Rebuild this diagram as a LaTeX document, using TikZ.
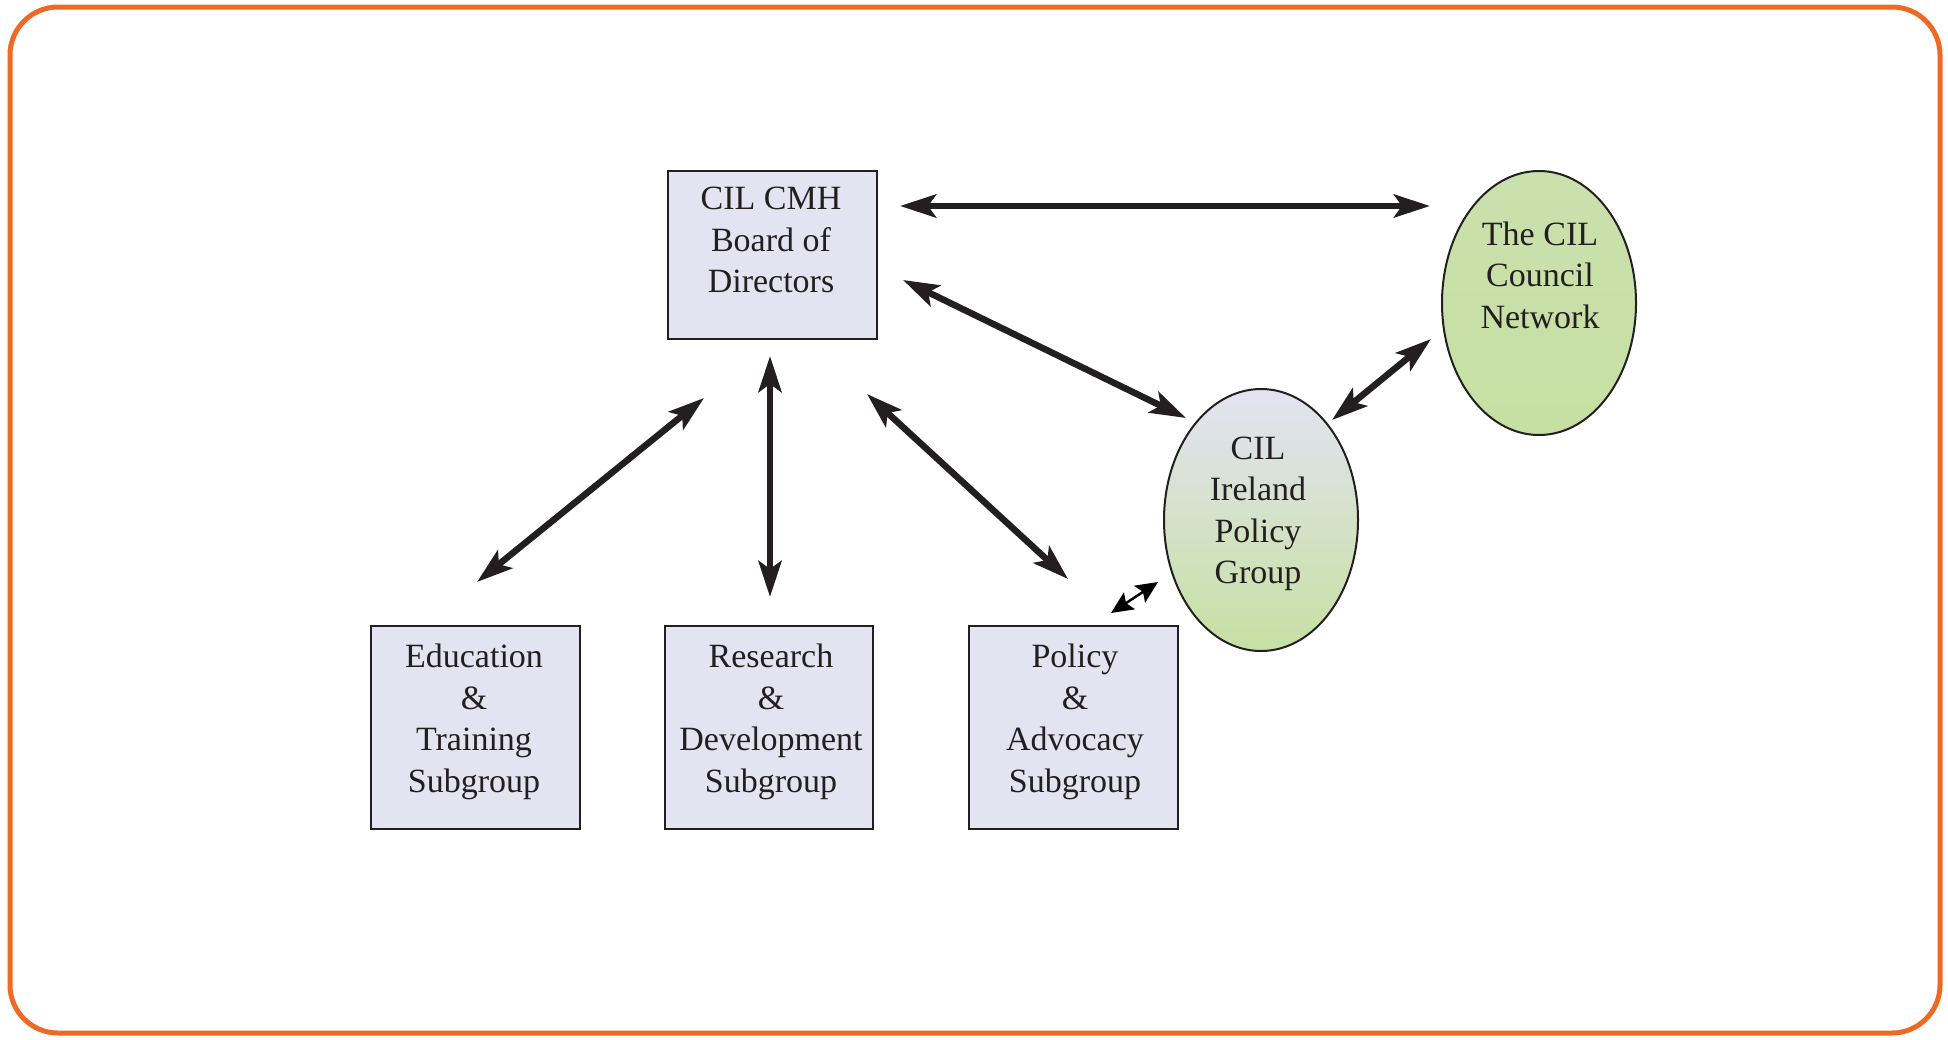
\documentclass[tikz,border=0pt]{standalone}
\usepackage{fontspec}
\setmainfont{Liberation Serif}
\usetikzlibrary{arrows.meta,shapes.geometric}
\definecolor{frameorange}{HTML}{EE6A24}
\definecolor{boxfill}{HTML}{E3E3F1}
\definecolor{greenfill}{HTML}{C6E0A2}
\definecolor{lavtop}{HTML}{E3E3F1}
\definecolor{edge}{HTML}{231F20}
\tikzset{
  boxnode/.style={draw=edge, line width=2pt, fill=boxfill, rectangle, inner sep=0pt},
  txt/.style={align=center, inner sep=0pt, text=edge, font=\fontsize{34}{41.5}\selectfont},
  ellnode/.style={draw=edge, line width=2pt, ellipse, inner sep=0pt},
  bigarrow/.style={line width=6.5pt, draw=edge, {Stealth[length=36pt,width=23pt,inset=8pt]}-{Stealth[length=36pt,width=23pt,inset=8pt]}},
  smallarrow/.style={line width=2.5pt, draw=black, {Stealth[length=22pt,width=20pt,inset=4pt]}-{Stealth[length=22pt,width=20pt,inset=4pt]}}
}
\begin{document}
\begin{tikzpicture}[x=1pt,y=-1pt]
\useasboundingbox (0,0) rectangle (1948,1039);
\draw[frameorange, line width=5pt, rounded corners=48pt] (10,7) rectangle (1940,1033);

% boxes
\node[boxnode, minimum width=209pt, minimum height=168pt] (board) at (772.5,255) {};
\node[txt] (boardtxt) at (771,240) {CIL CMH\\Board of\\Directors};

\node[boxnode, minimum width=209pt, minimum height=203pt] (edu) at (475.5,727.5) {};
\node[txt] (edutxt) at (474,722) {Education\\\&\\Training\\Subgroup};

\node[boxnode, minimum width=208pt, minimum height=203pt] (res) at (769,727.5) {};
\node[txt] (restxt) at (771,722) {Research\\\&\\Development\\Subgroup};

\node[boxnode, minimum width=209pt, minimum height=203pt] (pol) at (1073.5,727.5) {};
\node[txt] (poltxt) at (1075,722) {Policy\\\&\\Advocacy\\Subgroup};

% ellipses
\node[ellnode, minimum width=194pt, minimum height=264pt, top color=greenfill!85!lavtop, bottom color=greenfill] (council) at (1539,303) {};
\node[txt] (counciltxt) at (1540,275) {The CIL\\Council\\Network};

\node[ellnode, minimum width=194pt, minimum height=262pt, top color=lavtop, bottom color=greenfill] (ireland) at (1261,520) {};
\node[txt] (irelandtxt) at (1258,514) {CIL\\Ireland\\Policy\\Group};

% arrow end points
\coordinate (h1) at (900,206);
\coordinate (h2) at (1430,206);
\coordinate (d1) at (903,280);
\coordinate (d2) at (1186,418);
\coordinate (c1) at (1431,339);
\coordinate (c2) at (1332,420);
\coordinate (e1) at (704,398);
\coordinate (e2) at (477,582);
\coordinate (r1) at (770,356);
\coordinate (r2) at (770,597);
\coordinate (p1) at (867,394);
\coordinate (p2) at (1068,579);
\coordinate (s1) at (1158,582);
\coordinate (s2) at (1111,613);

\draw[bigarrow] (h1) -- (h2);
\draw[bigarrow] (d1) -- (d2);
\draw[bigarrow] (c1) -- (c2);
\draw[bigarrow] (e1) -- (e2);
\draw[bigarrow] (r1) -- (r2);
\draw[bigarrow] (p1) -- (p2);
\draw[smallarrow] (s1) -- (s2);
\end{tikzpicture}
\end{document}
